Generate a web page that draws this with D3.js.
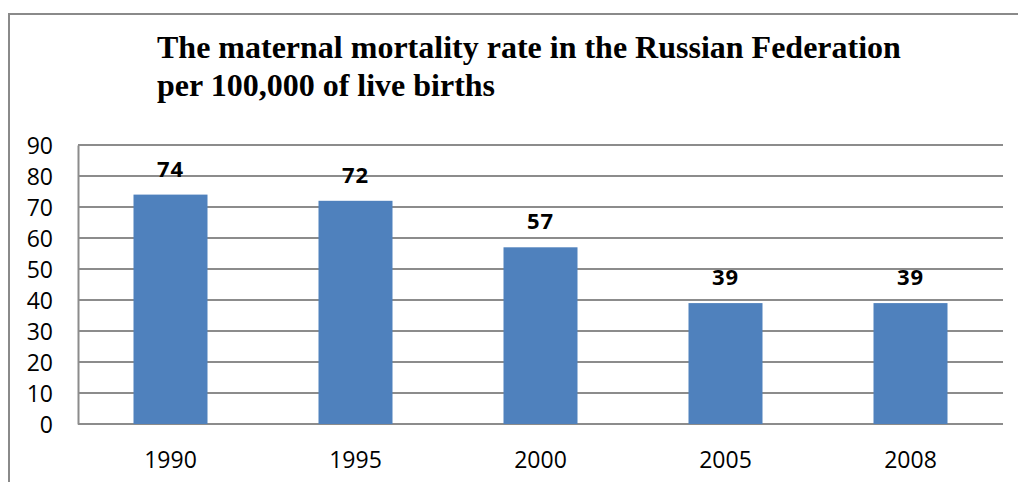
<!DOCTYPE html>
<html><head><meta charset="utf-8">
<script src="https://cdn.jsdelivr.net/npm/d3@7"></script>
<style>html,body{margin:0;padding:0;background:#fff;}svg{display:block;}</style>
</head><body>
<svg id="c" width="1018" height="482"></svg>
<script>
const categories = ["1990","1995","2000","2005","2008"];
const values = [74,72,57,39,39];
const yTicks = [0,10,20,30,40,50,60,70,80,90];
const titleLines = ["The maternal mortality rate in the Russian Federation","per 100,000 of live births"];

const svg = d3.select("#c");
const W = 1018, H = 482;
const m = {left:78, right:1003, top:145, bottom:424};

// outer frame
svg.append("path").attr("d", `M9,${H+5} L9,14 L${W+5},14`)
  .attr("fill","none").attr("stroke","#8a8a8a").attr("stroke-width",2);

// title
svg.append("g").selectAll("text").data(titleLines).join("text")
  .attr("x",157).attr("y",(d,i)=>58+i*37.5)
  .attr("font-family","'Liberation Serif','Times New Roman',serif")
  .attr("font-weight","bold").attr("font-size",32).attr("fill","#000")
  .text(d=>d);

const x = d3.scaleBand().domain(categories).range([m.left,m.right]).paddingInner(0.6).paddingOuter(0.3);
const y = d3.scaleLinear().domain([0,90]).range([m.bottom,m.top]);

// gridlines
svg.append("g").selectAll("line").data(yTicks).join("line")
  .attr("x1",m.left).attr("x2",m.right)
  .attr("y1",d=>y(d)).attr("y2",d=>y(d))
  .attr("stroke","#8c8c8c").attr("stroke-width",2);

// y axis
const yAxis = d3.axisLeft(y).tickValues(yTicks).tickSize(0).tickPadding(25);
const gy = svg.append("g").attr("transform",`translate(${m.left},0)`).call(yAxis);
gy.select(".domain").attr("stroke","#8c8c8c").attr("stroke-width",2);
gy.selectAll("text").attr("font-family","'Open Sans',sans-serif").attr("font-size",23).attr("fill","#000").attr("dy","0.36em");

// bars
svg.append("g").selectAll("rect").data(values).join("rect")
  .attr("x",(d,i)=>x(categories[i])).attr("width",x.bandwidth())
  .attr("y",d=>y(d)).attr("height",d=>y(0)-y(d))
  .attr("fill","#4F81BD");

// value labels
svg.append("g").selectAll("text").data(values).join("text")
  .attr("x",(d,i)=>x(categories[i])+x.bandwidth()/2)
  .attr("y",d=>y(d)-18)
  .attr("text-anchor","middle")
  .attr("font-family","'Open Sans',sans-serif").attr("font-weight","bold").attr("font-size",22).attr("letter-spacing",1).attr("fill","#000")
  .text(d=>d);

// x axis
const xAxis = d3.axisBottom(x).tickSize(0).tickPadding(28);
const gx = svg.append("g").attr("transform",`translate(0,${m.bottom})`).call(xAxis);
gx.select(".domain").remove();
gx.selectAll("text").attr("font-family","'Open Sans',sans-serif").attr("font-size",23).attr("fill","#000");
</script>
</body></html>
